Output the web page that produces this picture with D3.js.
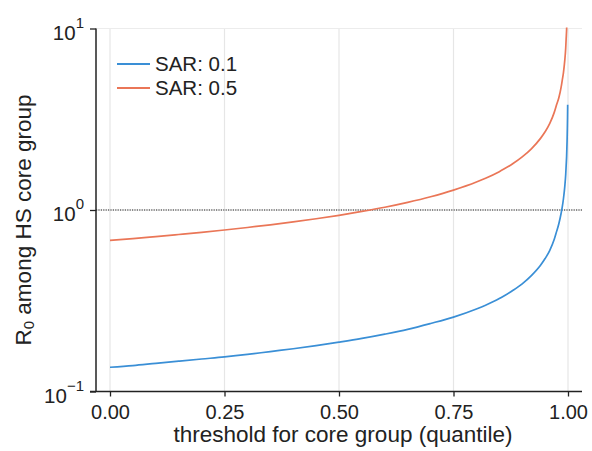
<!DOCTYPE html>
<html><head><meta charset="utf-8">
<script src="https://cdn.jsdelivr.net/npm/d3@7"></script>
<style>body{margin:0;background:#fff}svg{display:block;font-family:Arial,"Liberation Sans",sans-serif}</style>
</head><body><svg id="c" width="592" height="451"></svg>
<script>
const quantiles = [0,0.05,0.10,0.15,0.20,0.25,0.30,0.35,0.40,0.45,0.50,0.55,0.60,0.65,0.70,0.75,0.80,0.82,0.85,0.86,0.88,0.90,0.92,0.94,0.95,0.96,0.97,0.975,0.98,0.985,0.9875,0.99,0.993,0.995,0.996,0.997,0.998,0.999,0.9993];
const sar01 = [0.136,0.139,0.143,0.147,0.151,0.155,0.160,0.166,0.172,0.179,0.187,0.196,0.207,0.220,0.237,0.257,0.285,0.299,0.325,0.336,0.361,0.392,0.435,0.496,0.540,0.598,0.690,0.760,0.840,0.960,1.04,1.150,1.35,1.57,1.76,1.98,2.40,3.25,3.80];
const sar05 = [0.680,0.696,0.714,0.733,0.753,0.776,0.801,0.829,0.860,0.895,0.935,0.982,1.036,1.102,1.183,1.287,1.426,1.497,1.627,1.680,1.803,1.961,2.173,2.481,2.697,2.990,3.45,3.80,4.15,4.75,5.20,5.70,6.70,7.80,8.80,9.90,11.9,16.3,19.0];
const seriesNames = ["SAR: 0.1","SAR: 0.5"];
const seriesColors = ["#3a8fd6","#ea7657"];
const xTicks = [0,0.25,0.5,0.75,1];
const xTickLabels = ["0.00","0.25","0.50","0.75","1.00"];
const yTicks = [0.1,1,10];
const yTickExps = ["\u22121","0","1"];
const xTitle = "threshold for core group (quantile)";
const yTitle = ["R","0"," among HS core group"];
const refValue = 1;

const svg = d3.select("#c");
const x = d3.scaleLinear().domain([0,1]).range([110,568]);
const y = d3.scaleLog().domain([0.1,10]).range([391.5,28.5]);
const L = 96, R = 582, T = 28.5, B = 391.5;
const FONT = "Arial,'Liberation Sans',sans-serif";

// grid
const g = svg.append("g");
g.selectAll(".vg").data(xTicks).join("line")
  .attr("x1",d=>x(d)).attr("x2",d=>x(d)).attr("y1",T).attr("y2",B)
  .attr("stroke","#e6e6e6").attr("stroke-width",1.2);
g.selectAll(".hg").data(yTicks).join("line")
  .attr("x1",L).attr("x2",R).attr("y1",d=>y(d)).attr("y2",d=>y(d))
  .attr("stroke","#ececec").attr("stroke-width",1.2);

// reference line
svg.append("line").attr("x1",L).attr("x2",R).attr("y1",y(refValue)).attr("y2",y(refValue))
  .attr("stroke","#222").attr("stroke-width",1.1).attr("stroke-dasharray","1.2,1.2");

// clip
svg.append("clipPath").attr("id","clip").append("rect").attr("x",L).attr("y",T-1).attr("width",R-L).attr("height",B-T+1);
const line = d3.line().x(d=>x(d[0])).y(d=>y(d[1])).curve(d3.curveMonotoneX);
[sar01,sar05].forEach((s,i)=>{
  svg.append("path").datum(quantiles.map((q,j)=>[q,s[j]]))
    .attr("d",line).attr("fill","none").attr("stroke",seriesColors[i])
    .attr("stroke-width",1.7).attr("clip-path","url(#clip)");
});

// axes
const xAxis = d3.axisBottom(x).tickValues(xTicks).tickFormat((d,i)=>xTickLabels[i]).tickSize(5).tickPadding(8).tickSizeOuter(0);
const xg = svg.append("g").attr("transform",`translate(0,${B})`).call(xAxis);
xg.select(".domain").remove();
xg.append("line").attr("x1",L-6).attr("x2",R).attr("stroke","#222").attr("stroke-width",1.5);
xg.selectAll(".tick line").attr("stroke","#222").attr("stroke-width",1.3);
xg.selectAll(".tick text").attr("font-size",20).attr("fill","#222").attr("font-family",FONT);

const yAxis = d3.axisLeft(y).tickValues(yTicks).tickFormat("").tickSize(6).tickSizeOuter(0);
const yg = svg.append("g").attr("transform",`translate(${L},0)`).call(yAxis);
yg.select(".domain").remove();
yg.append("line").attr("y1",T).attr("y2",B).attr("stroke","#222").attr("stroke-width",1.5);
yg.selectAll(".tick line").attr("stroke","#222").attr("stroke-width",1.3);
yg.selectAll(".tick").each(function(d,i){
  const t = d3.select(this).append("text").attr("x",-12).attr("y",10.5).attr("text-anchor","end")
    .attr("fill","#222").attr("font-size",20.5).attr("font-family",FONT);
  t.append("tspan").text("10");
  t.append("tspan").attr("dy",-12).attr("font-size",15).text(yTickExps[i]);
});

// titles
svg.append("text").attr("x",343).attr("y",442).attr("text-anchor","middle")
  .attr("font-size",22.5).attr("fill","#222").text(xTitle);
const yt = svg.append("text").attr("transform","translate(31,220) rotate(-90)").attr("text-anchor","middle")
  .attr("font-size",22.5).attr("fill","#222");
yt.append("tspan").text(yTitle[0]);
yt.append("tspan").attr("font-size",15).attr("dy",3).text(yTitle[1]);
yt.append("tspan").attr("dy",-3).text(yTitle[2]);

// legend
const lg = svg.append("g");
seriesNames.forEach((n,i)=>{
  const yy = 64 + i*24;
  lg.append("line").attr("x1",117).attr("x2",150).attr("y1",yy).attr("y2",yy)
    .attr("stroke",seriesColors[i]).attr("stroke-width",1.8);
  lg.append("text").attr("x",155).attr("y",yy+7).attr("font-size",20.5).attr("fill","#222").text(n);
});
</script></body></html>
